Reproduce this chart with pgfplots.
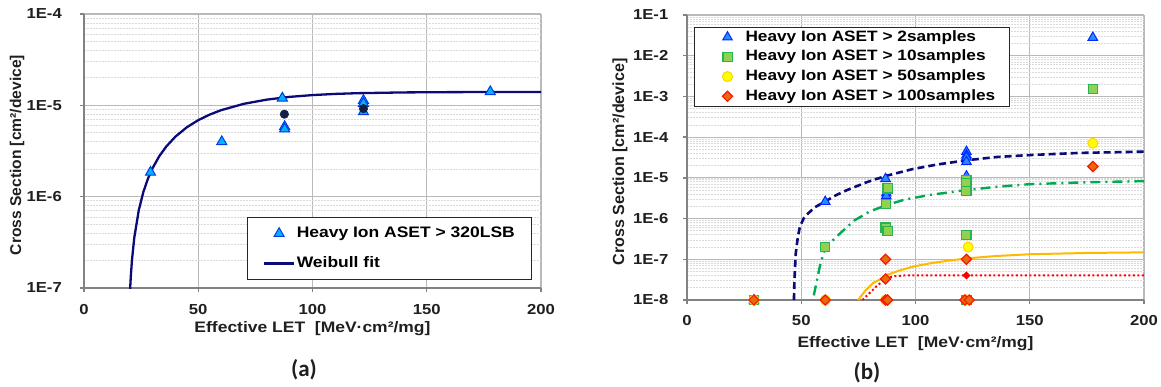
\documentclass[border=0pt]{standalone}
\usepackage{fontspec}
\setmainfont{Liberation Sans}[FakeStretch=1.15]
\newfontfamily\ylabfont{Liberation Sans}
\newfontfamily\capfont{Carlito}
\usepackage{pgfplots}
\pgfplotsset{compat=1.18}
\definecolor{triA}{RGB}{0,180,255}
\definecolor{triAedge}{RGB}{0,60,230}
\definecolor{triB}{RGB}{40,140,255}
\definecolor{triBedge}{RGB}{0,40,255}
\definecolor{navy}{RGB}{10,10,120}
\definecolor{dotnavy}{RGB}{20,30,70}
\definecolor{sqfill}{RGB}{146,208,80}
\definecolor{sqedge}{RGB}{40,180,80}
\definecolor{cfill}{RGB}{255,255,0}
\definecolor{cedge}{RGB}{255,210,0}
\definecolor{dfill}{RGB}{228,108,10}
\definecolor{dedge}{RGB}{255,20,0}
\definecolor{dashgreen}{RGB}{0,170,80}
\definecolor{orangeline}{RGB}{255,185,0}
\definecolor{gridmaj}{RGB}{185,185,185}
\definecolor{gridmin}{RGB}{218,218,218}
\definecolor{axgray}{RGB}{130,130,130}
\pgfplotsset{
  myax/.style={
    scale only axis, width=457pt,
    xmin=0, xmax=200, xtick={0,50,100,150,200}, xticklabels={0,50,100,150,200},
    axis lines*=left,
    axis line style={axgray, line width=1.3pt},
    tick style={axgray, line width=1.3pt},
    major tick length=4pt, minor tick length=0pt, tick align=outside,
    xmajorgrids, ymajorgrids, yminorgrids,
    major grid style={gridmaj, line width=1.1pt},
    minor grid style={gridmin, line width=0.7pt, dash pattern=on 2pt off 1pt},
    ticklabel style={font=\bfseries\fontsize{14.5}{15}\selectfont, text=black!88},
    xticklabel style={anchor=base, yshift=-22pt},
    yticklabel style={anchor=east, inner sep=0pt},
    every axis x label/.style={at={(axis description cs:0.5,0)}, anchor=base, font=\bfseries\fontsize{15.2}{16}\selectfont, text=black!88},
    legend cell align=left,
  }
}
\begin{document}
\begin{tikzpicture}
\useasboundingbox (0,0) rectangle (1161pt,387pt);
% ---------------- (a)
\begin{axis}[ymode=log, myax, at={(84pt,99pt)}, anchor=south west, height=274pt,
  ymin=1e-7, ymax=1e-4,
  ytick={1e-7,1e-6,1e-5,1e-4}, yticklabels={1E-7,1E-6,1E-5,1E-4},
  yticklabel style={xshift=-18pt},
  xlabel={Effective LET\ \ [MeV·cm²/mg]},
  xlabel style={yshift=-44pt},
  ylabel={Cross Section [cm²/device]},
  every axis y label/.style={at={(axis description cs:-0.1466,0.485)}, rotate=90, anchor=center, font=\ylabfont\bfseries\fontsize{15.6}{16}\selectfont, text=black!88},
  reverse legend,
  legend image code/.code={\path (0pt,0pt) (30pt,0pt); \draw[mark repeat=2, mark phase=2, #1] plot coordinates {(0pt,0pt) (15pt,0pt) (30pt,0pt)};},
  legend style={at={(0.98,0.029)}, anchor=south east, draw=black!85, line width=1pt,
    inner xsep=15pt, inner ysep=7.5pt, row sep=13pt,
    font=\bfseries\fontsize{15.2}{16}\selectfont,
    nodes={inner sep=1.5pt, text height=11pt, text depth=3pt}},
]
\addplot[navy, line width=2.3pt, no marks] coordinates {
(20.0,7.71e-8) (20.2,9.93e-8) (20.5,1.36e-7) (21,2.03e-7) (22,3.55e-7) (24,7.17e-7) (26,1.13e-6) (28,1.58e-6) (30,2.05e-6) (33,2.79e-6) (36,3.54e-6) (40,4.54e-6) (45,5.75e-6) (50,6.88e-6) (55,7.92e-6) (60,8.85e-6) (70,1.04e-5) (80,1.155e-5) (90,1.238e-5) (100,1.295e-5) (110,1.334e-5) (120,1.359e-5) (140,1.385e-5) (160,1.395e-5) (180,1.399e-5) (200,1.4e-5)};
\addlegendentry{Weibull fit}
\addplot[only marks, mark=triangle*, mark size=5.8pt, mark options={fill=triA, draw=triAedge, line width=1pt}] coordinates {
(29.1,1.85e-6) (60.3,4.0e-6) (86.8,1.2e-5) (87.8,5.85e-6) (87.8,5.5e-6) (122.3,1.13e-5) (122.3,1.05e-5) (122.3,8.5e-6) (177.8,1.41e-5)};
\addlegendentry{Heavy Ion ASET > 320LSB}
\addplot[only marks, mark=*, mark size=4.3pt, mark options={fill=dotnavy, draw=dotnavy}, forget plot] coordinates {
(87.7,8.0e-6) (122.3,9.2e-6)};
\end{axis}
% ---------------- (b)
\begin{axis}[ymode=log, myax, at={(687pt,87pt)}, anchor=south west, height=285pt,
  ymin=1e-8, ymax=1e-1,
  ytick={1e-8,1e-7,1e-6,1e-5,1e-4,1e-3,1e-2,1e-1}, yticklabels={1E-8,1E-7,1E-6,1E-5,1E-4,1E-3,1E-2,1E-1},
  yticklabel style={xshift=-14.5pt},
  xlabel={Effective LET\ \ [MeV·cm²/mg]},
  xlabel style={yshift=-47pt},
  ylabel={Cross Section [cm²/device]},
  every axis y label/.style={at={(axis description cs:-0.1466,0.485)}, rotate=90, anchor=center, font=\ylabfont\bfseries\fontsize{16.1}{17}\selectfont, text=black!88},
  legend image code/.code={\path (0pt,0pt) (36pt,0pt); \draw[mark repeat=2, mark phase=2, #1] plot coordinates {(0pt,0pt) (20pt,0pt) (36pt,0pt)};},
  legend style={at={(0.0153,0.959)}, anchor=north west, draw=black!85, line width=1pt,
    inner xsep=12.5pt, inner ysep=1.5pt, row sep=2.7pt,
    font=\bfseries\fontsize{15}{16}\selectfont,
    nodes={inner sep=1.5pt, text height=11pt, text depth=3pt},
    /tikz/every even column/.append style={column sep=4pt}},
]
\addplot[only marks, mark=triangle*, mark size=5.5pt, mark options={fill=triB, draw=triBedge, line width=1pt}] coordinates {
(29.3,1e-8) (60.5,2.6e-6) (86.9,9.5e-6) (87.2,4.2e-6) (87.2,3.6e-6) (122.3,4.4e-5) (122.3,3.6e-5) (122.3,3.2e-5) (122.3,2.5e-5) (122.3,1.1e-5) (177.6,2.8e-2)};
\addlegendentry{Heavy Ion ASET > 2samples}
\addplot[only marks, mark=square*, mark size=4.6pt, mark options={fill=sqfill, draw=sqedge, line width=1.2pt}] coordinates {
(29.3,1e-8) (60.5,2e-7) (87.8,5.5e-6) (87.2,2.25e-6) (86.9,6e-7) (87.8,5e-7) (122.3,8.9e-6) (122.3,7.3e-6) (122.3,4.7e-6) (122.3,4e-7) (122.3,1e-8) (177.6,1.5e-3)};
\addlegendentry{Heavy Ion ASET > 10samples}
\addplot[only marks, mark=*, mark size=5pt, mark options={fill=cfill, draw=cedge, line width=1pt}] coordinates {
(29.3,1e-8) (60.5,1e-8) (86.9,1e-8) (123.0,2e-7) (122.3,1e-8) (177.6,7.1e-5)};
\addlegendentry{Heavy Ion ASET > 50samples}
\addplot[only marks, mark=square*, mark size=3.6pt, mark options={rotate=45, fill=dfill, draw=dedge, line width=1.2pt}] coordinates {
(29.3,1e-8) (60.5,1e-8) (86.9,1e-7) (86.9,3.3e-8) (86.9,1e-8) (87.8,1e-8) (122.3,1e-7) (121.6,1e-8) (123.5,1e-8) (177.6,1.9e-5)};
\addlegendentry{Heavy Ion ASET > 100samples}
\addplot[only marks, mark=square*, mark size=2.6pt, mark options={rotate=45, fill=red, draw=red}, forget plot] coordinates {(122.3,4e-8)};
% fitted curves
\addplot[navy, line width=2.6pt, dash pattern=on 7pt off 4pt, forget plot] coordinates {
(46.8,1e-8) (47.0,3e-8) (47.6,1.4e-7) (48.5,3.5e-7) (49.4,6.3e-7) (51,1.0e-6) (53,1.34e-6) (56,1.9e-6) (60.3,2.6e-6) (65,3.7e-6) (70,5.0e-6) (78.6,7.8e-6) (86.6,1.1e-5) (98.9,1.65e-5) (110,2.15e-5) (122.3,2.7e-5) (135.4,3.25e-5) (150,3.63e-5) (171.8,4.1e-5) (200,4.4e-5)};
\addplot[dashgreen, line width=2.4pt, dash pattern=on 10pt off 5pt on 2pt off 5pt, forget plot] coordinates {
(55.5,1.3e-8) (58.1,6.6e-8) (59.9,1.5e-7) (62,2.3e-7) (65.4,3.6e-7) (73.4,9.1e-7) (80,1.5e-6) (87.3,2.14e-6) (95,2.9e-6) (106.2,3.8e-6) (120.8,4.9e-6) (135,6.0e-6) (150,7.0e-6) (175,7.8e-6) (200,8.3e-6)};
\addplot[orangeline, line width=2pt, forget plot] coordinates {
(74.9,1e-8) (78,1.7e-8) (81.4,2.6e-8) (84.4,3.2e-8) (87.3,4.1e-8) (93,5.3e-8) (98.9,6.6e-8) (106.2,7.9e-8) (114,9.2e-8) (122.3,1.05e-7) (135,1.2e-7) (150,1.33e-7) (175,1.43e-7) (200,1.48e-7)};
\addplot[red, line width=2pt, dash pattern=on 2pt off 2.5pt, forget plot] coordinates {
(76.8,1e-8) (80,1.5e-8) (83,2.2e-8) (86,3.0e-8) (88,3.5e-8) (91,3.85e-8) (95,4e-8) (200,4e-8)};
\end{axis}
\node[font=\capfont\bfseries\fontsize{23}{24}\selectfont, text=black!88] at (304pt,17pt) {(a)};
\node[font=\capfont\bfseries\fontsize{23}{24}\selectfont, text=black!88] at (867pt,14.5pt) {(b)};
\end{tikzpicture}
\end{document}
